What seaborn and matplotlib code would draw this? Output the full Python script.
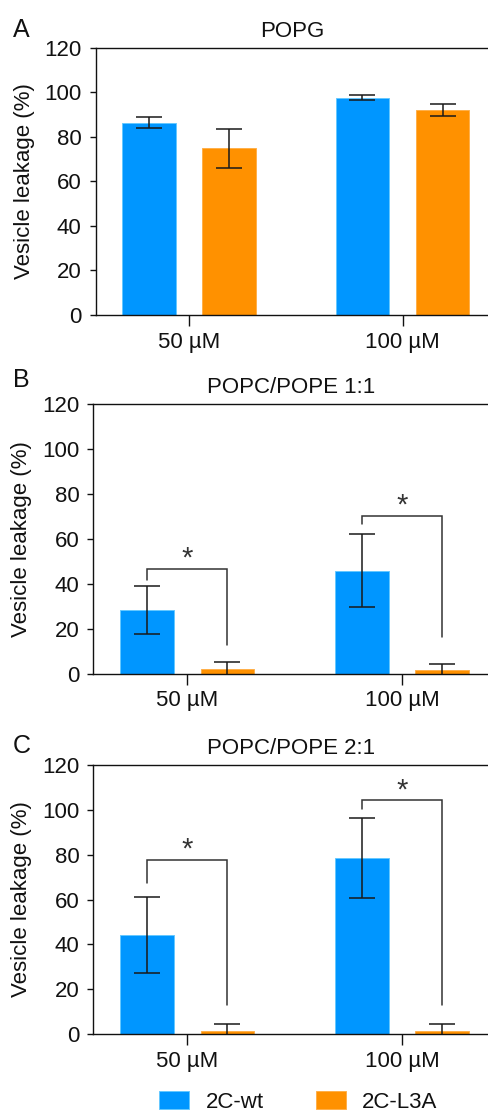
import matplotlib
matplotlib.use("Agg")
import matplotlib.pyplot as plt
import seaborn as sns
import pandas as pd
from matplotlib.patches import Patch

# ---------------- data ----------------
concentrations = ["50 µM", "100 µM"]
peptides = ["2C-wt", "2C-L3A"]
colors = ["#0096FF", "#FF9100"]
edge_colors = ["#66C8FF", "#FFB04A"]
titles = ["POPG", "POPC/POPE 1:1", "POPC/POPE 2:1"]
letters = ["A", "B", "C"]
y_ticks = [0, 20, 40, 60, 80, 100, 120]

# Panel A: POPG
popg_wt = [86.3, 97.6]
popg_wt_sd = [2.5, 1.2]
popg_l3a = [74.8, 91.9]
popg_l3a_sd = [8.6, 2.7]

# Panel B: POPC/POPE 1:1
pcpe11_wt = [28.3, 45.9]
pcpe11_wt_sd = [10.6, 16.3]
pcpe11_l3a = [2.0, 1.5]
pcpe11_l3a_sd = [3.3, 3.0]

# Panel C: POPC/POPE 2:1
pcpe21_wt = [44.1, 78.3]
pcpe21_wt_sd = [16.8, 17.8]
pcpe21_l3a = [1.5, 1.5]
pcpe21_l3a_sd = [3.0, 3.0]

# significance brackets (per concentration): top, left-leg end, right-leg end
pcpe11_bracket_top = [46.8, 70.4]
pcpe11_bracket_left = [41.8, 66.6]
pcpe11_bracket_right = [12.8, 16.5]
pcpe21_bracket_top = [77.6, 104.1]
pcpe21_bracket_left = [67.5, 100.3]
pcpe21_bracket_right = [13.0, 13.0]
sig_label = "*"

panels = [
    (popg_wt, popg_wt_sd, popg_l3a, popg_l3a_sd, None),
    (pcpe11_wt, pcpe11_wt_sd, pcpe11_l3a, pcpe11_l3a_sd,
     (pcpe11_bracket_top, pcpe11_bracket_left, pcpe11_bracket_right)),
    (pcpe21_wt, pcpe21_wt_sd, pcpe21_l3a, pcpe21_l3a_sd,
     (pcpe21_bracket_top, pcpe21_bracket_left, pcpe21_bracket_right)),
]

# ---------------- style ----------------
sns.set_style("ticks")
plt.rcParams["font.family"] = ["Liberation Sans", "DejaVu Sans"]
plt.rcParams["text.color"] = "#111111"
plt.rcParams["axes.labelcolor"] = "#111111"
plt.rcParams["xtick.color"] = "#111111"
plt.rcParams["ytick.color"] = "#111111"
plt.rcParams["axes.edgecolor"] = "#111111"

W, H = 489, 1115
fig = plt.figure(figsize=(W / 100, H / 100), dpi=100)

# axes boxes in pixels: left, top, bottom
boxes = [(95.7, 47.7, 315.0), (93.3, 404.3, 673.7), (93.3, 764.7, 1034.3)]
letter_baseline = [36.7, 386.7, 752.7]

for i, (wt, wt_sd, l3a, l3a_sd, brackets) in enumerate(panels):
    left, top, bottom = boxes[i]
    ax = fig.add_axes([left / W, 1 - bottom / H, (W - left) / W, (bottom - top) / H])

    df = pd.DataFrame({
        "conc": concentrations * 2,
        "peptide": [peptides[0]] * 2 + [peptides[1]] * 2,
        "value": wt + l3a,
    })
    sds = [wt_sd, l3a_sd]

    sns.barplot(data=df, x="conc", y="value", hue="peptide",
                order=concentrations, hue_order=peptides,
                palette=colors, width=0.75, gap=0.333,
                errorbar=None, legend=False, ax=ax, saturation=1)

    bar_containers = list(ax.containers)
    for k, container in enumerate(bar_containers):
        for bar, sd in zip(container, sds[k]):
            bar.set_edgecolor(edge_colors[k])
            bar.set_linewidth(0.7)
            xc = bar.get_x() + bar.get_width() / 2
            ax.errorbar(xc, bar.get_height(), yerr=sd, fmt="none",
                        ecolor="#1a1a1a", elinewidth=1.1, capsize=9.6,
                        capthick=1.1, zorder=4)

    if brackets is not None:
        b_top, b_left, b_right = brackets
        wt_bars = list(bar_containers[0])
        l3a_bars = list(bar_containers[1])
        for j in range(len(concentrations)):
            x1 = wt_bars[j].get_x() + wt_bars[j].get_width() / 2
            x2 = l3a_bars[j].get_x() + l3a_bars[j].get_width() / 2
            ax.plot([x1, x1, x2, x2], [b_left[j], b_top[j], b_top[j], b_right[j]],
                    color="#333333", lw=1.1, zorder=5, clip_on=False,
                    solid_joinstyle="miter")
            ax.annotate(sig_label, xy=((x1 + x2) / 2, b_top[j]),
                        xytext=(0, 1.5), textcoords="offset points",
                        ha="center", va="baseline", fontsize=21,
                        color="#333333")

    ax.set_xlim(-0.437, 1.405)
    ax.set_ylim(0, 120)
    ax.set_yticks(y_ticks)
    ax.set_xlabel("")
    ax.set_ylabel("Vesicle leakage (%)", fontsize=16, labelpad=7)
    ax.set_title(titles[i], fontsize=16, pad=8)
    ax.tick_params(axis="y", labelsize=16, length=4.1, width=1.0, pad=6)
    ax.tick_params(axis="x", labelsize=16, length=8, width=1.0, pad=4)
    ax.spines["right"].set_visible(False)
    for s in ["left", "top", "bottom"]:
        ax.spines[s].set_linewidth(1.0)

    fig.text(13 / W, 1 - letter_baseline[i] / H, letters[i], fontsize=18,
             va="baseline", ha="left")

handles = [Patch(facecolor=c, edgecolor=e, linewidth=0.7) for c, e in zip(colors, edge_colors)]
fig.legend(handles, peptides, loc="center", bbox_to_anchor=(298.3 / W, 1 - 1102 / H),
           ncol=2, frameon=False, fontsize=16, handlelength=1.35, handleheight=0.81,
           handletextpad=0.75, columnspacing=2.33, borderpad=0, borderaxespad=0)

fig.savefig("out.png", dpi=100)
